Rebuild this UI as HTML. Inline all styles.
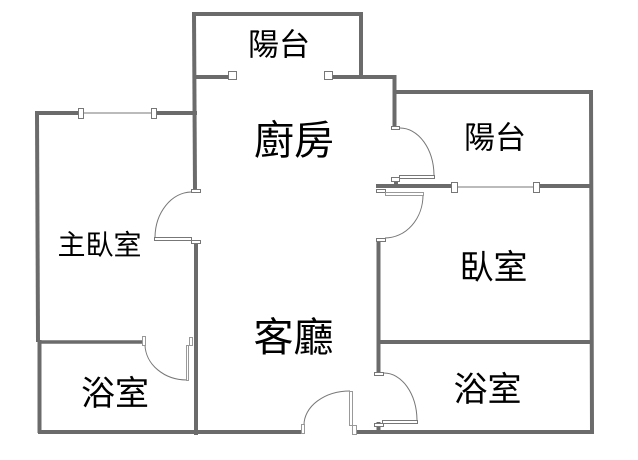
<!DOCTYPE html>
<html><head><meta charset="utf-8"><style>
html,body{margin:0;padding:0;background:#fff;width:638px;height:460px;overflow:hidden}
svg{display:block}
text{font-family:"Liberation Sans","Noto Sans CJK TC",sans-serif;fill:#000;text-anchor:middle;dominant-baseline:central}
.w{stroke:#6b6b6b;stroke-width:4;fill:none;stroke-linecap:square}
.t{stroke:#777;stroke-width:1;fill:none}
.b{stroke:#777;stroke-width:1;fill:#fff}
.l{stroke:#999;stroke-width:1;fill:#fff}
</style></head><body>
<svg width="638" height="460" viewBox="0 0 638 460" xmlns="http://www.w3.org/2000/svg">
<g class="w">
<path d="M194 14H361V75"/>
<path d="M194 14L195 189"/>
<path d="M196 77H228"/>
<path d="M332 77H394.500V127"/>
<path d="M396 92H591L592 432"/>
<path d="M378 186H451"/>
<path d="M539 186H591"/>
<path d="M396 181V185"/>
<path d="M378.500 241V370"/>
<path d="M381 342H591"/>
<path d="M359 432H592"/>
<path d="M40 432H299"/>
<path d="M196 243V433"/>
<path d="M37 113H78"/>
<path d="M156 113H195"/>
<path d="M37 113L38 340"/>
<path d="M39.500 342V431"/>
<path d="M42 342H141" style="stroke-width:3.500"/>
<path d="M378.500 424V428"/>
</g>
<path class="t" d="M83 113H151M457 187H533"/>
<path class="t" d="M400 128A34 48 0 0 1 434 175"/>
<path class="t" d="M423 195A38 43 0 0 1 385 238"/>
<path class="t" d="M191 192A37 46 0 0 0 155 237"/>
<path class="t" d="M145 345A42 36 0 0 0 187 380"/>
<path class="t" d="M384 373A33 48 0 0 1 417 420"/>
<path class="t" d="M304 425A46 34 0 0 1 350 391"/>
<g class="b">
<rect x="228.500" y="71.500" width="8" height="8"/>
<rect x="324.500" y="71.500" width="8" height="8"/>
<rect x="78.500" y="108.500" width="5" height="10"/>
<rect x="151.500" y="108.500" width="5" height="10"/>
<rect x="451.500" y="182.500" width="6" height="10"/>
<rect x="533.500" y="182.500" width="6" height="10"/>
<rect x="391.500" y="126.500" width="8" height="3"/>
<rect x="391.500" y="177.500" width="8" height="4"/>
<path d="M399.500 178.500V175.500H434.500V178.500Z"/>
<rect x="376.500" y="189.500" width="9" height="3"/>
<rect x="385.500" y="192.500" width="38" height="3" class="l"/>
<rect x="376.500" y="238.500" width="9" height="3"/>
<rect x="191.500" y="189.500" width="9" height="3"/>
<rect x="154.500" y="237.500" width="37" height="3"/>
<rect x="191.500" y="240.500" width="9" height="3"/>
<rect x="142.500" y="336.500" width="3" height="9" class="l"/>
<rect x="186.500" y="345.500" width="2" height="35" class="l"/>
<rect x="189.500" y="337.500" width="3" height="8" class="l"/>
<rect x="374.500" y="372.500" width="9" height="3"/>
<rect x="382.500" y="420.500" width="35" height="3"/>
<rect x="374.500" y="423.500" width="9" height="3"/>
<rect x="301.500" y="424.500" width="3" height="9" class="l"/>
<rect x="349.500" y="391.500" width="3" height="34" class="l"/>
<rect x="352.500" y="425.500" width="4" height="9" class="l"/>
</g>
<text x="279" y="45" font-size="31">陽台</text>
<text x="294" y="141" font-size="40">廚房</text>
<text x="495" y="138" font-size="31">陽台</text>
<text x="99.500" y="245" font-size="28">主臥室</text>
<text x="493.500" y="268" font-size="34">臥室</text>
<text x="293.500" y="338" font-size="40">客廳</text>
<text x="115" y="394" font-size="34">浴室</text>
<text x="487.500" y="390" font-size="34">浴室</text>
</svg>
</body></html>
